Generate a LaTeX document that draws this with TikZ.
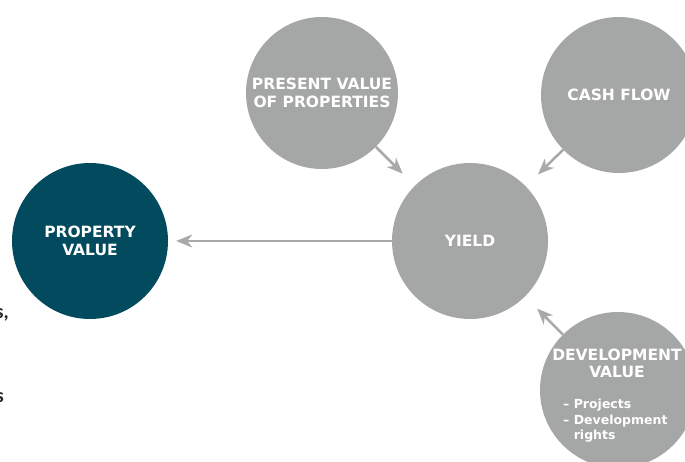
\documentclass[tikz,border=0pt]{standalone}
\usepackage{fontspec}
\setmainfont{DejaVu Sans}
\newfontfamily\bodyfont{Carlito}
\usepackage{tikz}
\usetikzlibrary{arrows.meta, positioning}

\definecolor{teal}{HTML}{024A5E}
\definecolor{stone}{HTML}{A5A7A6}
\definecolor{arrowgray}{HTML}{A8A9A9}

\begin{document}
\begin{tikzpicture}[x=1pt, y=-1pt]
    % styles
    \tikzstyle{bubble} = [circle, fill=stone, minimum size=156pt, inner sep=0pt, text=white, align=center, font=\bfseries\fontsize{15.5}{18.5}\selectfont]
    \tikzstyle{keybubble} = [bubble, fill=teal]
    \tikzstyle{arrow} = [draw=arrowgray, line width=2.5pt, -{Stealth[length=16pt, width=13pt, inset=5pt]}]
    \tikzstyle{fragment} = [anchor=base east, inner sep=0pt, font=\bodyfont\bfseries\fontsize{20}{24}\selectfont, text=black!85]

    \useasboundingbox (0,0) rectangle (685,462);
    \fill[white] (0,0) rectangle (685,462);

    % nodes
    \node (value) [keybubble] at (90,241) {PROPERTY\\VALUE};
    \node (yield) [bubble] at (470,241) {YIELD};
    \node (pv) [bubble, minimum size=152pt] at (322,93) {PRESENT VALUE\\OF PROPERTIES};
    \node (cash) [bubble] at (619,95) {CASH FLOW};
    \node (dev) [bubble] at (618,390) {};
    \node (devtitle) [text=white, align=center, inner sep=0pt, anchor=base, font=\bfseries\fontsize{15.5}{16.5}\selectfont] at (617,377) {DEVELOPMENT\\VALUE};
    \node (devlist) [text=white, align=left, inner sep=0pt, anchor=north west, font=\bfseries\fontsize{12.5}{15.5}\selectfont] at (563,399) {-- Projects\\-- Development\\\phantom{-- }rights};

    % cut-off text on the left
    \node (frag1) [fragment] at (9,318) {s,};
    \node (frag2) [fragment] at (4,402) {s};

    % connectors
    \draw [arrow, shorten >=17pt] (pv) -- (yield);
    \draw [arrow, shorten >=17pt] (cash) -- (yield);
    \draw [arrow, shorten >=17pt] (dev) -- (yield);
    \draw [arrow, shorten >=8pt] (yield) -- (value);
\end{tikzpicture}
\end{document}
